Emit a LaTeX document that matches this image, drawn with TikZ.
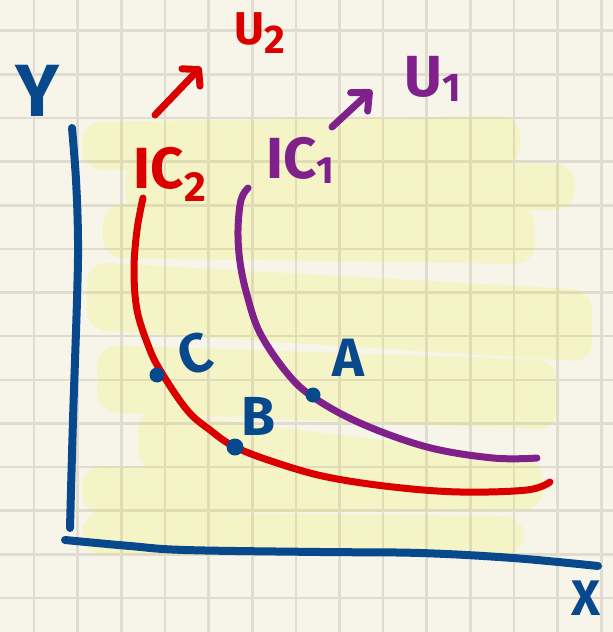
\documentclass[tikz,border=0pt]{standalone}
\usepackage{fontspec}
\setmainfont{Fira Sans}
\usetikzlibrary{arrows.meta}
\definecolor{paper}{RGB}{247,245,233}
\definecolor{hilite}{RGB}{245,244,198}
\definecolor{gridc}{RGB}{224,221,208}
\definecolor{gridy}{RGB}{224,221,182}
\definecolor{inkblue}{RGB}{8,72,140}
\definecolor{inkred}{RGB}{218,0,0}
\definecolor{inkpurple}{RGB}{128,32,138}
\newcommand{\hlregion}[1]{%
  \path[#1, rounded corners=20pt]
    (82,122) -- (520,116) -- (520,166) -- (82,170) -- cycle
    (125,160) -- (575,164) -- (575,210) -- (125,212) -- cycle
    (103,204) -- (535,206) -- (535,264) -- (103,258) -- cycle
    (87,262) -- (592,290) -- (592,362) -- (87,330) -- cycle
    (97,345) -- (557,360) -- (557,430) -- (97,412) -- cycle
    (138,410) -- (543,460) -- (543,506) -- (138,470) -- cycle
    (82,466) -- (543,470) -- (543,510) -- (82,514) -- cycle
    (82,512) -- (524,516) -- (524,555) -- (82,555) -- cycle;}
\newcommand{\gridlines}[1]{%
  \foreach \k in {0,...,13} {
    \draw[#1, line width=2.6pt] ({34+43.64*\k},0) -- ({34+43.64*\k},632);
    \draw[#1, line width=2.6pt] (0,{30.7+43.64*\k}) -- (613,{30.7+43.64*\k});
  }}
\begin{document}
\begin{tikzpicture}[x=1pt,y=-1pt,
  inkline/.style={line width=#1, line cap=round, line join=round},
  lbl/.style={inner sep=0pt, font=\bfseries\fontsize{#1}{#1}\selectfont},
  dotn/.style={circle, fill=inkblue, inner sep=0pt, minimum size=#1},
  barb/.style={-{Straight Barb[length=#1, width=25pt, round]}}
]
\useasboundingbox (0,0) rectangle (613,632);
\fill[paper] (0,0) rectangle (613,632);
% highlighter
\hlregion{fill=hilite}
% grid
\gridlines{gridc}
\begin{scope}
  \hlregion{clip}
  \gridlines{gridy}
\end{scope}

% axes
\draw[inkblue, inkline=8pt] plot[smooth, tension=0.6] coordinates
  {(72,128) (76,180) (78,240) (77,300) (73,420) (70,528)};
\draw[inkblue, inkline=8pt] plot[smooth, tension=0.6] coordinates
  {(65,540) (130,546) (185,550) (320,552) (420,553) (513,558) (598,566)};

% indifference curves
\draw[inkred, inkline=7pt] plot[smooth, tension=0.6] coordinates
  {(143,198) (137,230) (134,270) (137,310) (148,345) (160,370) (187,410) (210,430) (235,447) (277,463) (327,477) (393,487) (460,492) (527,490) (550,482)};
\draw[inkpurple, inkline=7pt] plot[smooth, tension=0.6] coordinates
  {(248,188) (241,200) (238,230) (240,262) (247,295) (260,333) (287,373) (313,397) (360,423) (427,447) (493,458) (537,458)};

% points
\node[dotn=15pt] (dotC) at (157,375) {};
\node[dotn=17pt] (dotB) at (235,447) {};
\node[dotn=15pt] (dotA) at (313,395) {};

% labels
\node[lbl=74, text=inkblue] (ylab) at (37,91) {Y};
\node[lbl=50, text=inkblue] (xlab) at (586,598) {X};
\node[lbl=54, text=inkblue] (alab) at (348,358) {A};
\node[lbl=55, text=inkblue] (blab) at (258,416) {B};
\node[lbl=55, text=inkblue, rotate=20] (clab) at (195,354) {C};
\node[lbl=58, text=inkred] (ic2) at (170,174) {IC\raisebox{-13pt}{\fontsize{42}{42}\selectfont 2}};
\node[lbl=58, text=inkpurple] (ic1) at (300,160) {IC\raisebox{-5pt}{\fontsize{38}{38}\selectfont 1}};
\node[lbl=46, text=inkred] (u2) at (260,33) {U\raisebox{-9pt}{\fontsize{40}{40}\selectfont 2}};
\node[lbl=58, text=inkpurple] (u1) at (433,79) {U\raisebox{-5pt}{\fontsize{40}{40}\selectfont 1}};

% utility arrows
\coordinate (r0) at (155,115);
\coordinate (r1) at (201,67);
\coordinate (p0) at (332,127);
\coordinate (p1) at (372,90);
\draw[inkred, inkline=7pt, barb=11pt] (r0) -- (r1);
\draw[inkpurple, inkline=7pt, barb=14pt] (p0) -- (p1);
\end{tikzpicture}
\end{document}
